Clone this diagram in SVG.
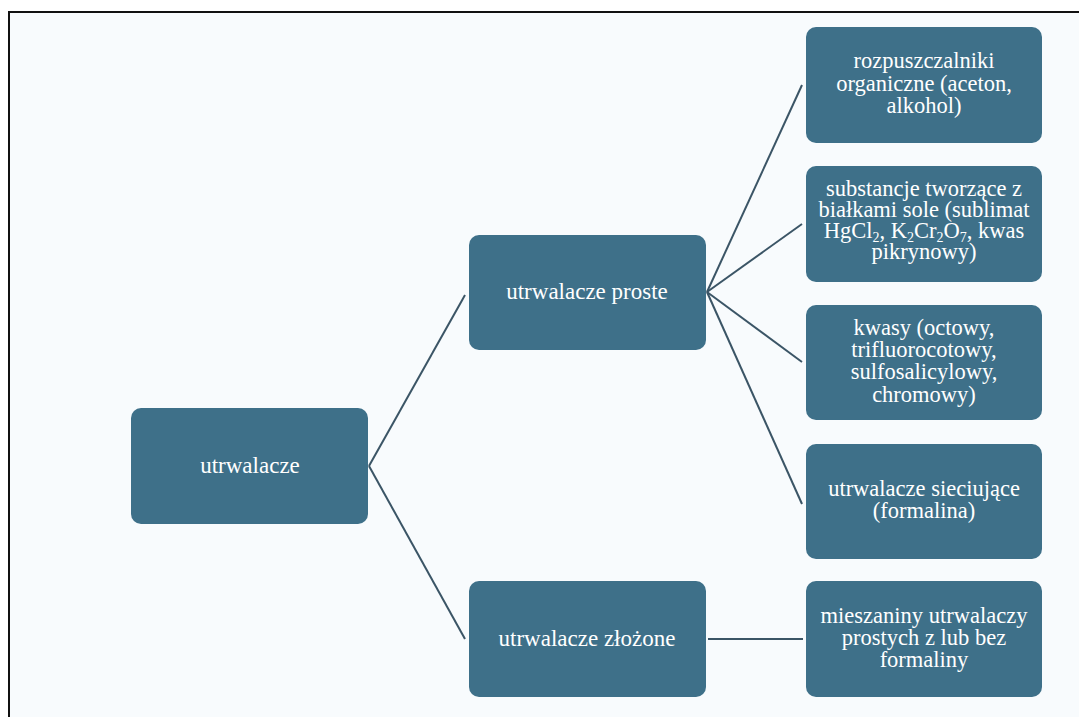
<svg xmlns="http://www.w3.org/2000/svg" width="1079" height="717" viewBox="0 0 1079 717">
<style>
.box{fill:#3e7089;}
.t{fill:#ffffff;font-family:"Liberation Serif","Times New Roman",serif;text-anchor:middle;}
.m{font-size:23px;}
.s{font-size:22.5px;}
.sub{font-size:14px;}
.c{stroke:#3b5566;stroke-width:2;fill:none;}
</style>
<rect x="0" y="0" width="1079" height="717" fill="#ffffff"/>
<rect x="9" y="12" width="1080" height="720" fill="#f8fbfd"/>
<path d="M9,717 V12 H1079" fill="none" stroke="#111111" stroke-width="2"/>
<g id="connectors">
<line class="c" x1="369" y1="466" x2="465" y2="295"/>
<line class="c" x1="369" y1="466" x2="465" y2="639"/>
<line class="c" x1="707" y1="292" x2="802" y2="85"/>
<line class="c" x1="707" y1="292" x2="802" y2="224"/>
<line class="c" x1="707" y1="292" x2="802" y2="362"/>
<line class="c" x1="707" y1="292" x2="802" y2="504"/>
<line class="c" x1="708" y1="639" x2="803" y2="639"/>
</g>
<g id="n-utrwalacze">
<rect class="box" x="131" y="408" width="237" height="116" rx="10"/>
<text class="t m" x="250" y="473">utrwalacze</text>
</g>
<g id="n-proste">
<rect class="box" x="469" y="235" width="237" height="115" rx="10"/>
<text class="t m" x="587" y="299">utrwalacze proste</text>
</g>
<g id="n-zlozone">
<rect class="box" x="469" y="581" width="237" height="116" rx="10"/>
<text class="t m" x="587" y="646">utrwalacze złożone</text>
</g>
<g id="n-rozpuszczalniki">
<rect class="box" x="806" y="27" width="236" height="116" rx="10"/>
<text class="t s" x="924" y="68">rozpuszczalniki</text>
<text class="t s" x="924" y="91">organiczne (aceton,</text>
<text class="t s" x="924" y="113">alkohol)</text>
</g>
<g id="n-substancje">
<rect class="box" x="806" y="166" width="236" height="116" rx="10"/>
<text class="t s" x="924" y="196">substancje tworzące z</text>
<text class="t s" x="924" y="217">białkami sole (sublimat</text>
<text class="t s" x="924" y="238">HgCl<tspan class="sub" dy="4">2</tspan><tspan dy="-4">, K</tspan><tspan class="sub" dy="4">2</tspan><tspan dy="-4">Cr</tspan><tspan class="sub" dy="4">2</tspan><tspan dy="-4">O</tspan><tspan class="sub" dy="4">7</tspan><tspan dy="-4">, kwas</tspan></text>
<text class="t s" x="924" y="259">pikrynowy)</text>
</g>
<g id="n-kwasy">
<rect class="box" x="806" y="305" width="236" height="115" rx="10"/>
<text class="t s" x="924" y="335">kwasy (octowy,</text>
<text class="t s" x="924" y="357">trifluorocotowy,</text>
<text class="t s" x="924" y="379">sulfosalicylowy,</text>
<text class="t s" x="924" y="402">chromowy)</text>
</g>
<g id="n-sieciujace">
<rect class="box" x="806" y="444" width="236" height="115" rx="10"/>
<text class="t s" x="924" y="496">utrwalacze sieciujące</text>
<text class="t s" x="924" y="518">(formalina)</text>
</g>
<g id="n-mieszaniny">
<rect class="box" x="806" y="581" width="236" height="116" rx="10"/>
<text class="t s" x="924" y="623">mieszaniny utrwalaczy</text>
<text class="t s" x="924" y="645">prostych z lub bez</text>
<text class="t s" x="924" y="667">formaliny</text>
</g>
</svg>
